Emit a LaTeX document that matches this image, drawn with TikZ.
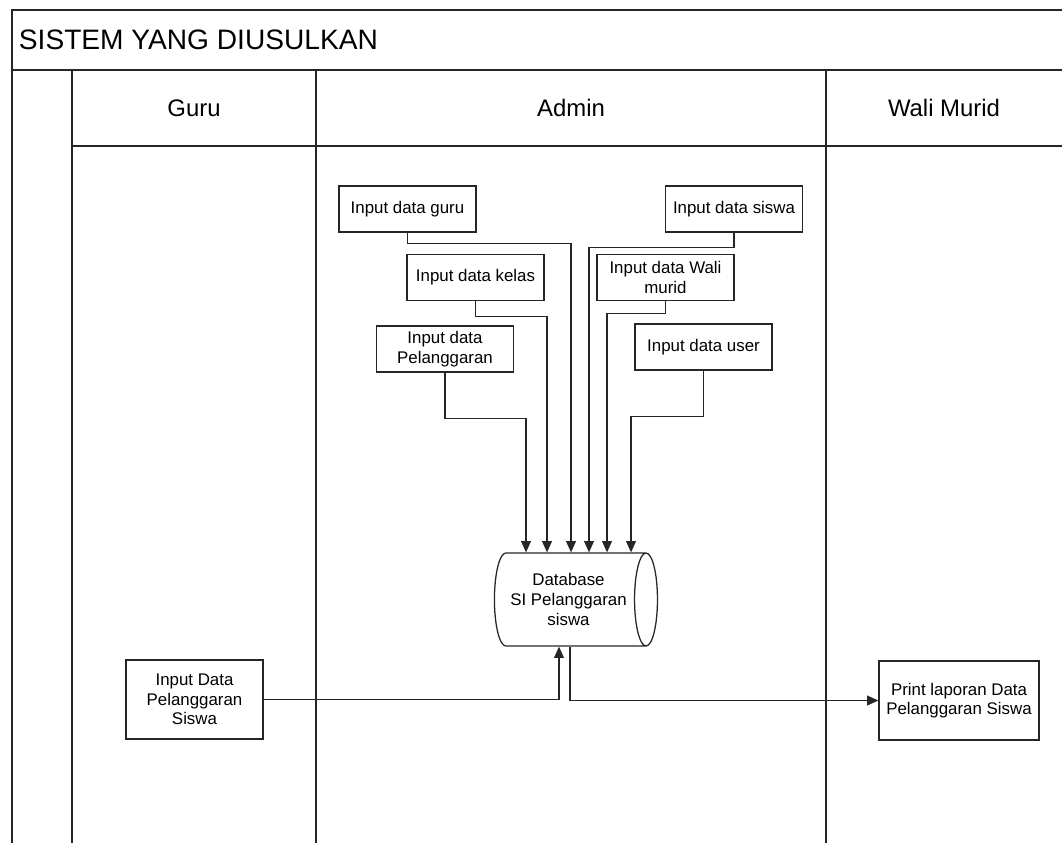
\documentclass[tikz,border=0pt]{standalone}
\usepackage{fontspec}
\setmainfont{Liberation Sans}
\usetikzlibrary{shapes.geometric,arrows.meta,calc}

\begin{document}
\begin{tikzpicture}[x=0.025cm, y=-0.025cm,
inbox/.style={rectangle, draw=black!85, line width=0.9pt, minimum width=3.425cm, minimum height=1.15cm, align=center, inner sep=2pt, font=\fontsize{12}{14}\selectfont},
bigbox/.style={inbox, minimum height=1.975cm},
dbnode/.style={cylinder, draw=black!85, line width=0.9pt, shape aspect=0.42, minimum height=4.075cm, minimum width=2.325cm, align=center, inner sep=1pt, font=\fontsize{12}{14}\selectfont},
lanetext/.style={font=\fontsize{17}{20}\selectfont},
laneline/.style={draw=black!85, line width=0.8pt},
flow/.style={draw=black!85, line width=0.9pt, -{Triangle[length=8pt,width=7pt]}},
]
\useasboundingbox (0,0) rectangle (1062,843);

%Swimlanes
\draw[laneline] (12,843) -- (12,10) -- (1070,10);
\draw[laneline, line width=1.6pt] (12,70) -- (1070,70);
\draw[laneline] (72,146) -- (1070,146);
\draw[laneline] (72,70) -- (72,843);
\draw[laneline] (316,70) -- (316,843);
\draw[laneline] (826,70) -- (826,843);

\node[anchor=west, font=\fontsize{20}{24}\selectfont] (title) at (14,40) {SISTEM YANG DIUSULKAN};
\node[lanetext] (guruhdr)  at (194,108) {Guru};
\node[lanetext] (adminhdr) at (571,108) {Admin};
\node[lanetext] (walihdr)  at (944,108) {Wali Murid};

%Nodes
\node[inbox] (guru)        at (407.5,209) {Input data guru};
\node[inbox] (siswa)       at (734,209)   {Input data siswa};
\node[inbox] (kelas)       at (475.5,277.5) {Input data kelas};
\node[inbox] (wali)        at (665.5,277.5) {Input data Wali\\murid};
\node[inbox] (pelanggaran) at (445,349)   {Input data\\Pelanggaran};
\node[inbox] (user)        at (703.5,347) {Input data user};
\node[dbnode] (db)         at (568.5,599.5) {Database\\SI Pelanggaran\\siswa};
\node[bigbox] (inputsiswa) at (194.5,699.5) {Input Data\\Pelanggaran\\Siswa};
\node[bigbox, minimum width=4cm] (print) at (959,700.5) {Print laporan Data\\Pelanggaran Siswa};

%Lines
\draw[flow] (guru.south) -- ++(0,11) -| ($(db.north)+(2.5,0)$);
\draw[flow] (kelas.south) -- ++(0,15) -| ($(db.north)+(-21.5,0)$);
\draw[flow] (pelanggaran.south) -- ++(0,46) -| ($(db.north)+(-42.5,0)$);
\draw[flow] (siswa.south) -- ++(0,15) -| ($(db.north)+(20.5,0)$);
\draw[flow] (wali.south) -- ++(0,12) -| ($(db.north)+(38.5,0)$);
\draw[flow] (user.south) -- ++(0,46) -| ($(db.north)+(62.5,0)$);

\draw[flow] (inputsiswa.east) -| ($(db.south)+(-9.5,0)$);
\draw[flow] ($(db.south)+(1.5,0)$) |- (print.west);

\end{tikzpicture}
\end{document}
